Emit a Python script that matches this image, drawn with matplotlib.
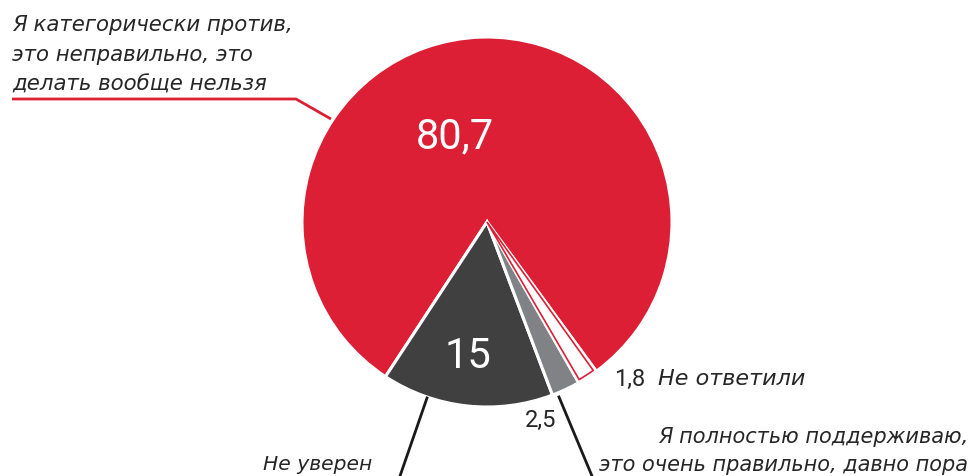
import matplotlib
matplotlib.use("Agg")
import matplotlib.pyplot as plt
from matplotlib.patches import Wedge
import numpy as np

# ----- data -----
values = [80.7, 15, 2.5, 1.8]
value_labels = ["80,7", "15", "2,5", "1,8"]
categories = [
    "Я категорически против,\nэто неправильно, это\nделать вообще нельзя",
    "Не уверен",
    "Я полностью поддерживаю,\nэто очень правильно, давно пора",
    "Не ответили",
]

RED = "#DC1F35"
DARK = "#404040"
GREY = "#808285"
TXT = "#262626"
colors = [RED, DARK, GREY, "white"]

W, H = 973, 476
fig = plt.figure(figsize=(W / 100, H / 100), dpi=100)
ax = fig.add_axes([0, 0, 1, 1])

cx, cy, R = 487, H - 222, 185
wedges, _ = ax.pie(values, colors=colors, startangle=-53.8, counterclock=True,
                   center=(cx, cy), radius=R,
                   wedgeprops=dict(edgecolor="white", linewidth=2.2))

# white slice gets an inset red outline
w = wedges[3]
ax.add_patch(Wedge(w.center, w.r - 2.5, w.theta1 + 0.6, w.theta2 - 0.6,
                   facecolor="white", edgecolor=RED, linewidth=1.2))

num_font = ["Roboto", "DejaVu Sans"]
lab_font = ["DejaVu Sans"]

# values
ax.text(455, H - 137, value_labels[0], color="white", fontsize=30,
        family=num_font, ha="center", va="center")
ax.text(468, H - 357, value_labels[1], color="white", fontsize=30,
        family=num_font, ha="center", va="center")
ax.text(541, H - 420, value_labels[2], color=TXT, fontsize=17,
        family=num_font, ha="center", va="center")
ax.text(630, H - 379, value_labels[3], color=TXT, fontsize=17,
        family=num_font, ha="center", va="center")

# category labels
ax.text(12, H - 15, categories[0], color=TXT, fontsize=15.3, family=lab_font,
        style="italic", ha="left", va="top", linespacing=1.62)
ax.text(372, H - 465, categories[1], color=TXT, fontsize=14.6, family=lab_font,
        style="italic", ha="right", va="center")
ax.text(968, H - 451, categories[2], color=TXT, fontsize=15, family=lab_font,
        style="italic", ha="right", va="center", linespacing=1.55)
ax.text(658, H - 379, categories[3], color=TXT, fontsize=16, family=lab_font,
        style="italic", ha="left", va="center")

# leader lines
ax.plot([12, 296, 331], [H - 99, H - 99, H - 119], color=RED, lw=2,
        solid_capstyle="butt")
ax.plot([427, 400], [H - 398, H - 476], color="#1a1a1a", lw=2)
ax.plot([559, 592], [H - 397, H - 476], color="#1a1a1a", lw=2)

ax.set_xlim(0, W)
ax.set_ylim(0, H)
ax.set_aspect("equal")
ax.axis("off")
fig.savefig("out.png", dpi=100)
